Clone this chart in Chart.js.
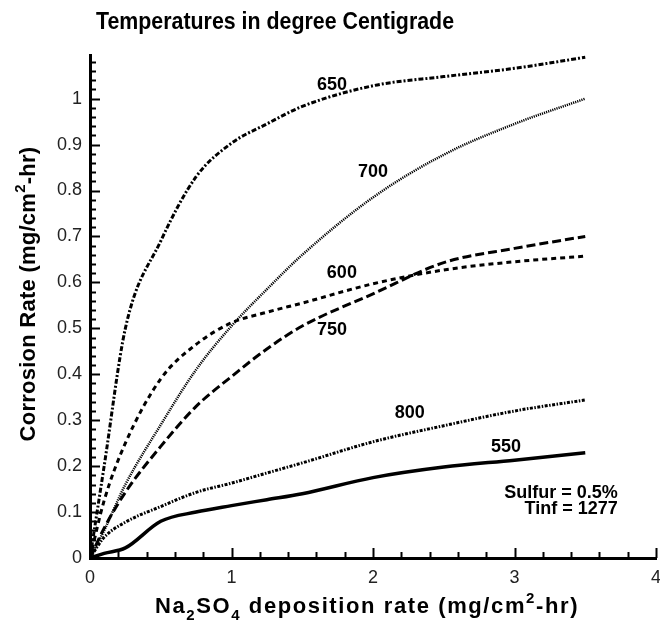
<!DOCTYPE html>
<html>
<head>
<meta charset="utf-8">
<script src="https://cdn.jsdelivr.net/npm/chart.js@4/dist/chart.umd.min.js"></script>
<style>
  html, body { margin: 0; padding: 0; background: #fff; }
  #wrap { width: 660px; height: 627px; }
</style>
</head>
<body>
<div id="wrap"><canvas id="c" width="660" height="627"></canvas></div>
<script>
// Na2SO4 deposition rate (mg/cm^2-hr), shared sample points for every curve
const deposition = [0, 0.1, 0.25, 0.5, 0.75, 1.0, 1.25, 1.5, 2.0, 2.5, 3.0, 3.5];

// Corrosion rate (mg/cm^2-hr) per gas temperature (deg C)
const rate650 = [0, 0.20, 0.50, 0.69, 0.83, 0.903, 0.945, 0.983, 1.028, 1.048, 1.066, 1.09];
const rate700 = [0, 0.06, 0.16, 0.29, 0.41, 0.505, 0.585, 0.66, 0.785, 0.878, 0.945, 1.0];
const rate600 = [0, 0.125, 0.25, 0.39, 0.465, 0.512, 0.535, 0.555, 0.597, 0.627, 0.645, 0.657];
const rate750 = [0, 0.065, 0.143, 0.243, 0.33, 0.395, 0.455, 0.505, 0.575, 0.643, 0.674, 0.70];
const rate800 = [0, 0.045, 0.078, 0.112, 0.143, 0.163, 0.185, 0.207, 0.253, 0.288, 0.32, 0.344];
const rate550 = [0, 0.01, 0.022, 0.08, 0.1, 0.114, 0.127, 0.14, 0.175, 0.198, 0.213, 0.229];

// Curve labels and where they sit (data coordinates)
const curveNames = ['650', '700', '600', '750', '800', '550'];
const labelX = [1.71, 2.0, 1.78, 1.71, 2.26, 2.94];
const labelY = [1.03, 0.84, 0.62, 0.497, 0.316, 0.242];

// Run conditions note
const noteLines = ['Sulfur = 0.5%', 'Tinf = 1277'];
const noteX = 3.73;
const noteY = [0.142, 0.107];

const chartTitle = 'Temperatures in degree Centigrade';
const xTicks = [0, 1, 2, 3, 4];

const pts = ys => deposition.map((x, i) => ({ x, y: ys[i] }));

function series(ys, dash, width) {
  return {
    data: pts(ys),
    borderColor: '#000',
    borderWidth: width,
    borderDash: dash,
    borderCapStyle: 'butt',
    pointRadius: 0,
    fill: false,
    cubicInterpolationMode: 'monotone'
  };
}

const FAM = "'Liberation Sans', Arial, sans-serif";

// Inward tick marks, curve labels, titles with sub/superscripts
const decorations = {
  id: 'decorations',
  afterDatasetsDraw(chart) {
    const { ctx, scales: { x, y }, chartArea: a } = chart;
    ctx.save();
    ctx.strokeStyle = '#000';
    ctx.lineWidth = 2;
    // y ticks every 0.02, major every 0.1
    for (let i = 0; i * 0.02 <= y.max + 1e-9; i++) {
      const py = Math.round(y.getPixelForValue(i * 0.02)) + 0.5;
      const len = i % 5 === 0 ? 10 : 6;
      ctx.beginPath(); ctx.moveTo(a.left, py); ctx.lineTo(a.left + len, py); ctx.stroke();
    }
    // x ticks every 0.2, major every 1
    for (let i = 0; i * 0.2 <= x.max + 1e-9; i++) {
      const px = Math.round(x.getPixelForValue(i * 0.2)) + 0.5;
      const len = i % 5 === 0 ? 10 : 6;
      ctx.beginPath(); ctx.moveTo(px, a.bottom); ctx.lineTo(px, a.bottom - len); ctx.stroke();
    }

    ctx.fillStyle = '#000';
    ctx.font = `bold 18px ${FAM}`;
    ctx.textAlign = 'center';
    ctx.textBaseline = 'middle';
    curveNames.forEach((n, i) => {
      ctx.fillText(n, x.getPixelForValue(labelX[i]), y.getPixelForValue(labelY[i]));
    });
    ctx.textAlign = 'right';
    noteLines.forEach((t, i) => {
      ctx.fillText(t, x.getPixelForValue(noteX), y.getPixelForValue(noteY[i]));
    });

    // chart title, condensed bold
    ctx.save();
    ctx.font = `bold 24px ${FAM}`;
    ctx.textAlign = 'center';
    ctx.textBaseline = 'alphabetic';
    ctx.translate(275, 29);
    ctx.scale(0.89, 1);
    ctx.fillText(chartTitle, 0, 0);
    ctx.restore();

    // axis titles built from runs: [text, 'n' | 'sub' | 'sup']
    function runs(parts, cx, cy, rot, base, spacing) {
      ctx.save();
      ctx.translate(cx, cy);
      ctx.rotate(rot);
      ctx.textAlign = 'left';
      ctx.textBaseline = 'alphabetic';
      ctx.letterSpacing = spacing + 'px';
      let w = 0;
      const sized = parts.map(([t, k]) => {
        const f = `bold ${k === 'n' ? base : Math.round(base * 0.68)}px ${FAM}`;
        ctx.font = f;
        const m = ctx.measureText(t).width;
        w += m;
        return { t, k, f, m };
      });
      let px = -w / 2;
      sized.forEach(s => {
        ctx.font = s.f;
        const dy = s.k === 'sub' ? base * 0.3 : s.k === 'sup' ? -base * 0.45 : 0;
        ctx.fillText(s.t, px, dy);
        px += s.m;
      });
      ctx.restore();
    }
    runs([['Na', 'n'], ['2', 'sub'], ['SO', 'n'], ['4', 'sub'], [' deposition rate (mg/cm', 'n'], ['2', 'sup'], ['-hr)', 'n']],
      367, 613, 0, 22, 1.6);
    runs([['Corrosion Rate (mg/cm', 'n'], ['2', 'sup'], ['-hr)', 'n']], 35, 294, -Math.PI / 2, 22, 0.25);
    ctx.restore();
  }
};

new Chart(document.getElementById('c'), {
  type: 'line',
  data: {
    datasets: [
      series(rate650, [5, 2, 2, 2], 3),
      series(rate700, [1.2, 1], 2.5),
      series(rate600, [5, 4], 3),
      series(rate750, [9, 4], 3),
      series(rate800, [3, 1.5, 1.5, 1.5], 3),
      series(rate550, [], 3.5)
    ]
  },
  options: {
    responsive: false,
    animation: false,
    events: [],
    layout: { padding: { top: 55, right: 4, left: 0, bottom: 0 } },
    plugins: { legend: { display: false }, tooltip: { enabled: false }, title: { display: false } },
    scales: {
      x: {
        type: 'linear', min: 0, max: 4,
        afterFit(s) { s.height = 69; s.paddingLeft = 0; s.paddingRight = 0; },
        grid: { display: false, drawTicks: false },
        border: { display: true, color: '#000', width: 3 },
        ticks: {
          stepSize: 1, padding: 9, color: '#222',
          font: { family: FAM, size: 18 },
          callback: v => xTicks.includes(v) ? String(v) : ''
        }
      },
      y: {
        type: 'linear', min: 0, max: 1.095,
        afterFit(s) { s.width = 90; s.paddingTop = 0; s.paddingBottom = 0; },
        grid: { display: false, drawTicks: false },
        border: { display: true, color: '#000', width: 3 },
        ticks: {
          stepSize: 0.1, includeBounds: false, padding: 8, color: '#222',
          font: { family: FAM, size: 18 },
          callback: v => String(Math.round(v * 10) / 10)
        }
      }
    }
  },
  plugins: [decorations]
});
</script>
</body>
</html>
